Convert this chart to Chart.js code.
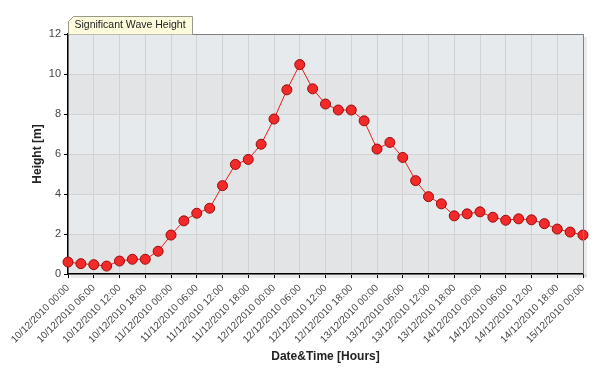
<!DOCTYPE html>
<html>
<head>
<meta charset="utf-8">
<script src="https://cdn.jsdelivr.net/npm/chart.js@4/dist/chart.umd.min.js"></script>
<style>
  html, body { margin: 0; padding: 0; background: #fff; }
  #wrap { width: 600px; height: 370px; }
</style>
</head>
<body>
<div id="wrap"><canvas id="chart" width="600" height="370"></canvas></div>
<script>
const CHART = document.getElementById("chart").getContext("2d");

// 3-hourly timestamps, 10/12/2010 00:00 -> 15/12/2010 00:00
const days = ["10/12/2010", "11/12/2010", "12/12/2010", "13/12/2010", "14/12/2010", "15/12/2010"];
const hours = ["00:00", "03:00", "06:00", "09:00", "12:00", "15:00", "18:00", "21:00"];

let labelsTime = [];
days.forEach(function (d, i) {
    hours.forEach(function (h) {
        if (i < days.length - 1 || h === "00:00") labelsTime.push(d + " " + h);
    });
});

const waveHeight = [
    0.60, 0.52, 0.47, 0.40, 0.65, 0.74, 0.74, 1.14, 1.95, 2.66,
    3.04, 3.29, 4.42, 5.48, 5.73, 6.49, 7.75, 9.21, 10.47, 9.26,
    8.50, 8.20, 8.20, 7.66, 6.25, 6.58, 5.83, 4.67, 3.87, 3.51,
    2.91, 3.01, 3.11, 2.84, 2.69, 2.76, 2.71, 2.52, 2.25, 2.10, 1.95
];

const FONT = "'Liberation Sans', Arial, sans-serif";

// plot background bands, shadow and the title tab
const plotDecor = {
    id: "plotDecor",
    beforeDraw(chart) {
        const c = chart.ctx, a = chart.chartArea, y = chart.scales.y;
        c.save();
        // shadow
        c.fillStyle = "rgba(0,0,0,0.08)";
        c.fillRect(a.right, a.top + 3, 4, a.bottom - a.top);
        c.fillRect(a.left + 3, a.bottom, a.right - a.left + 1, 4);
        for (let v = 0; v < 12; v += 2) {
            const top = y.getPixelForValue(v + 2), bot = y.getPixelForValue(v);
            c.fillStyle = (v / 2) % 2 === 0 ? "#e3e4e6" : "#e7eaed";
            c.fillRect(a.left, top, a.right - a.left, bot - top);
        }
        c.restore();
    },
    afterDraw(chart) {
        const c = chart.ctx, a = chart.chartArea;
        c.save();
        // frame: gray top/right
        c.strokeStyle = "#808080";
        c.lineWidth = 1;
        c.beginPath();
        c.moveTo(a.left, a.top + 0.5);
        c.lineTo(a.right + 0.5, a.top + 0.5);
        c.lineTo(a.right + 0.5, a.bottom);
        c.stroke();
        // title tab
        const x0 = Math.round(a.left) + 0.5, x1 = 192.5, yb = a.top + 0.5, yt = 16.5;
        c.beginPath();
        c.moveTo(x0, yb);
        c.lineTo(x0, yt + 5);
        c.lineTo(x0 + 5, yt);
        c.lineTo(x1, yt);
        c.lineTo(x1, yb);
        c.fillStyle = "#fefbdc";
        c.fill();
        c.strokeStyle = "#9a9a8a";
        c.stroke();
        c.fillStyle = "#222";
        c.font = "10.5px " + FONT;
        c.textBaseline = "middle";
        c.fillText("Significant Wave Height", x0 + 6, yt + 9);
        c.restore();
    }
};

let lineChart = new Chart(CHART, {
    type: "line",
    data: {
        labels: labelsTime,
        datasets: [{
            label: "Significant Wave Height",
            data: waveHeight,
            borderColor: "#ee1c1c",
            borderWidth: 1,
            tension: 0,
            pointRadius: 5,
            pointBackgroundColor: "#f42a2a",
            pointBorderColor: "#9a0c0c",
            pointBorderWidth: 1,
            clip: false
        }]
    },
    options: {
        responsive: false,
        animation: false,
        devicePixelRatio: 1,
        layout: { padding: { left: 30, right: 17, top: 34, bottom: 6 } },
        plugins: {
            legend: { display: false },
            tooltip: { enabled: false }
        },
        scales: {
            x: {
                offset: false,
                grid: {
                    color: "#d2d2d2",
                    drawOnChartArea: true,
                    tickLength: 4,
                    tickColor: "#000"
                },
                border: { color: "#000", width: 1.5 },
                ticks: {
                    autoSkip: false,
                    maxRotation: 45,
                    minRotation: 45,
                    color: "#444",
                    font: { family: FONT, size: 10 },
                    padding: 4,
                    callback: function (val, i) {
                        return i % 2 === 0 ? this.getLabelForValue(val) : null;
                    }
                },
                title: {
                    display: true,
                    text: "Date&Time [Hours]",
                    color: "#222",
                    font: { family: FONT, size: 12, weight: "bold" },
                    padding: { top: 0, bottom: 0 }
                }
            },
            y: {
                min: 0,
                max: 12,
                afterFit: function (scale) {
                    scale.width = 38;
                },
                ticks: {
                    stepSize: 2,
                    color: "#444",
                    font: { family: FONT, size: 11 },
                    padding: 3
                },
                grid: {
                    color: "#d2d2d2",
                    tickLength: 4,
                    tickColor: "#000"
                },
                border: { color: "#000", width: 1.5 },
                title: {
                    display: true,
                    text: "Height [m]",
                    color: "#222",
                    font: { family: FONT, size: 12, weight: "bold" },
                    padding: { top: 0, bottom: 0 }
                }
            }
        }
    },
    plugins: [plotDecor]
});
</script>
</body>
</html>
